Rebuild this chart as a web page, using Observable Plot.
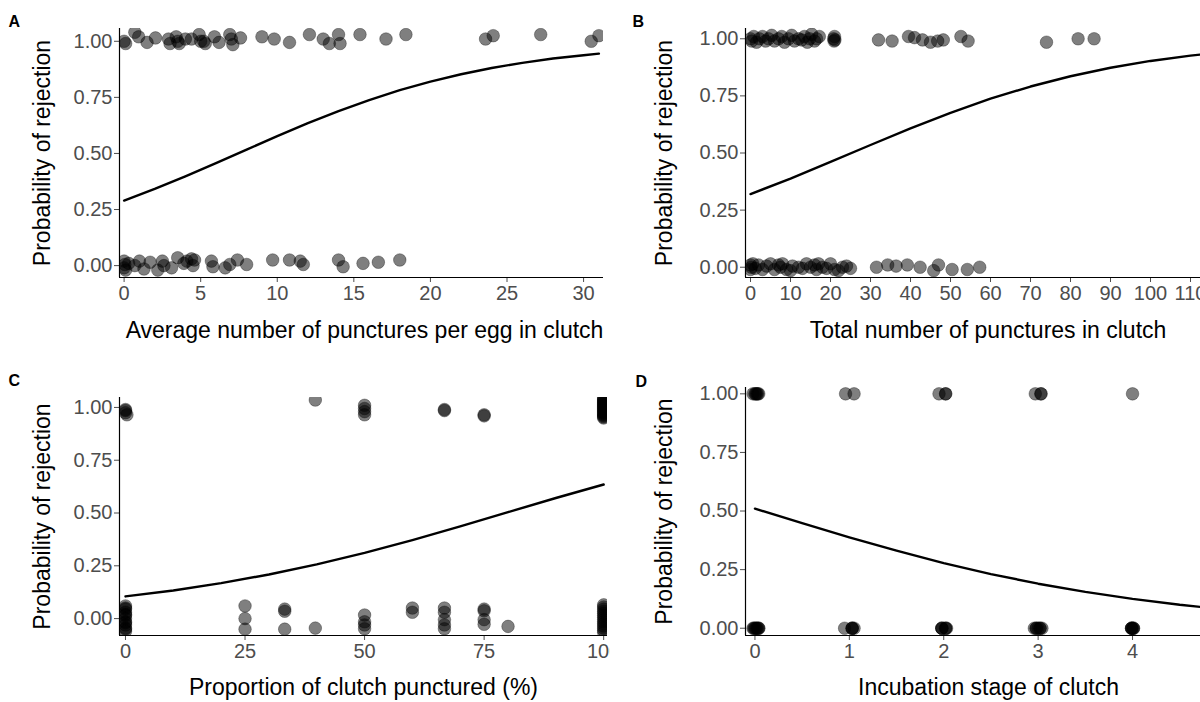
<!DOCTYPE html>
<html><head><meta charset="utf-8">
<script src="https://cdn.jsdelivr.net/npm/d3@7"></script>
<script src="https://cdn.jsdelivr.net/npm/@observablehq/plot@0.6"></script>
<style>
body{margin:0;background:#fff;}
#fig{position:relative;width:1200px;height:702px;overflow:hidden;background:#fff;}
#fig > svg{position:absolute;}
</style></head><body><div id="fig"></div>
<script>
// ---------- data ----------
const yTicks = [0, 0.25, 0.5, 0.75, 1];
const yTitle = "Probability of rejection";

// Panel A: average punctures per egg
const aTicks = [0, 5, 10, 15, 20, 25, 30];
const aRejected = [[0,1.00],[0.1,0.99],[0.7,1.04],[0.95,1.02],[1.5,0.995],[2.05,1.015],[2.9,1.01],[3.0,0.99],[3.4,1.02],[3.5,1.0],[3.6,0.99],[4.0,1.01],[4.4,1.01],[4.9,1.03],[5.0,1.0],[5.2,1.0],[5.3,0.99],[5.9,1.02],[6.2,0.995],[6.9,1.03],[7.0,1.01],[7.1,0.985],[7.6,1.015],[9.0,1.02],[9.8,1.01],[10.8,0.995],[12.1,1.03],[13.0,1.01],[13.4,0.99],[14.0,1.03],[14.1,0.99],[15.4,1.03],[17.1,1.01],[18.4,1.03],[23.6,1.01],[24.1,1.025],[27.2,1.03],[30.5,1.0],[31.0,1.025]];
const aAccepted = [[0,0.02],[0,-0.01],[0.05,0.005],[0.1,-0.02],[0.3,0.01],[0.7,0.0],[1.0,0.02],[1.3,-0.015],[1.7,0.015],[2.2,-0.02],[2.5,0.02],[2.6,0.0],[3.1,-0.01],[3.5,0.035],[3.9,0.01],[4.1,0.02],[4.4,0.03],[4.5,0.0],[4.6,0.025],[5.7,0.02],[5.8,-0.005],[6.6,-0.01],[6.9,0.005],[7.4,0.025],[8.0,0.005],[9.7,0.025],[10.8,0.025],[11.5,0.02],[11.7,0.005],[14.0,0.025],[14.3,-0.005],[15.6,0.01],[16.6,0.015],[18.0,0.025]];
const aCurve = [[0,0.29],[2,0.342],[4,0.398],[6,0.457],[8,0.517],[10,0.577],[12,0.635],[14,0.689],[16,0.738],[18,0.782],[20,0.820],[22,0.853],[24,0.881],[26,0.904],[28,0.923],[30,0.938],[31,0.945]];

// Panel B: total punctures
const bTicks = [0, 10, 20, 30, 40, 50, 60, 70, 80, 90, 100, 110];
const bRejected = [[0,1.0],[0.3,0.99],[0.8,1.01],[1.5,0.985],[2.2,1.0],[3.0,1.01],[3.8,0.99],[4.5,1.0],[5.3,1.015],[6.0,0.99],[7.0,1.0],[7.8,1.01],[8.5,0.985],[9.5,1.0],[10.3,1.015],[11.0,0.99],[12.0,1.0],[12.8,0.995],[13.5,1.01],[14.2,0.985],[14.8,1.0],[15.3,1.02],[16.0,0.99],[16.5,1.0],[17.2,1.01],[20.8,1.0],[20.9,0.99],[21.0,1.01],[21.1,0.995],[32,0.995],[35.4,0.99],[39.5,1.01],[41,1.005],[43,0.995],[45,0.985],[46.8,0.99],[48.2,0.995],[52.6,1.01],[54.4,0.99],[74,0.985],[81.9,1.0],[85.9,1.0]];
const bAccepted = [[0,0.01],[0,-0.01],[0.2,0.0],[0.6,0.015],[1.2,-0.005],[2,0.01],[3,-0.01],[4,0.005],[5,0.015],[6,-0.01],[7,0.01],[7.5,0.0],[8,0.015],[9,-0.01],[10,-0.015],[10.5,0.005],[12,0.0],[13,-0.005],[14,0.015],[15,0.0],[16,0.01],[16.5,-0.01],[17,0.015],[18,0.0],[19,-0.005],[20,0.015],[21,-0.01],[22,-0.015],[23,0.0],[24,0.005],[25,-0.005],[31.5,0.0],[34.3,0.01],[36.4,0.005],[39.2,0.01],[42.4,0.0],[45.8,-0.015],[47,0.01],[50.4,-0.01],[54.2,-0.01],[57.3,0.0]];
const bCurve = [[0,0.32],[10,0.388],[20,0.461],[30,0.535],[40,0.608],[50,0.676],[60,0.738],[70,0.791],[80,0.836],[90,0.873],[100,0.903],[110,0.926],[112.5,0.931]];

// Panel C: proportion of clutch punctured
const cTicks = [0, 25, 50, 75, 100];
const cRejected = [[0,0.99],[0,0.975],[0.3,0.965],[0,0.985],[39.7,1.035],[50,1.01],[50,0.995],[50,0.98],[50,0.965],[66.7,0.99],[66.7,0.985],[75,0.965],[75,0.96],[100,0.95],[100,0.955],[100,0.96],[100,0.965],[100,0.97],[100,0.975],[100,0.98],[100,0.985],[100,0.99],[100,0.995],[100,1.0],[100,1.005],[100,1.01],[100,1.015],[100,1.02],[100,1.025],[100,1.03],[100,1.035],[100,1.04],[100,1.045]];
const cAccepted = [[0,0.06],[0,0.05],[0,0.045],[0,0.03],[0,0.02],[0,0.015],[0,0.0],[0,-0.015],[0,-0.02],[0,-0.03],[0,-0.045],[0,-0.05],[0,-0.06],[25,0.06],[25,0.0],[25,-0.05],[33.3,0.045],[33.3,0.035],[33.3,-0.05],[39.7,-0.045],[50,0.017],[50,-0.015],[50,-0.03],[50,-0.048],[60,0.05],[60,0.03],[66.7,0.05],[66.7,0.03],[66.7,-0.005],[66.7,-0.03],[66.7,-0.048],[75,0.045],[75,0.037],[75,-0.005],[75,-0.027],[80,-0.037],[100,0.065],[100,0.055],[100,0.045],[100,0.035],[100,0.025],[100,0.015],[100,0.005],[100,-0.005],[100,-0.015],[100,-0.025],[100,-0.035],[100,-0.045],[100,-0.055],[100,-0.065]];
const cCurve = [[0,0.105],[10,0.133],[20,0.168],[30,0.209],[40,0.257],[50,0.311],[60,0.372],[70,0.437],[80,0.504],[90,0.571],[100,0.635]];

// Panel D: incubation stage
const dTicks = [0, 1, 2, 3, 4];
const dRejected = [[-0.02,1],[0,1],[0.01,1],[0.02,1],[0.03,1],[0.04,1],[0.96,1],[1.05,1],[1.95,1],[2.02,1],[2.02,1],[2.97,1],[3.03,1],[3.03,1],[4.0,1]];
const dAccepted = [[-0.02,0],[-0.01,0],[0,0],[0.01,0],[0.02,0],[0.03,0],[0.04,0],[0.04,0],[0.95,0],[1.03,0],[1.03,0],[1.03,0],[1.05,0],[1.98,0],[1.98,0],[1.98,0],[2.02,0],[2.02,0],[2.03,0],[2.96,0],[2.98,0],[2.98,0],[3.0,0],[3.02,0],[3.02,0],[3.04,0],[3.99,0],[3.99,0],[3.99,0],[4.0,0],[4.01,0],[4.01,0]];
const dCurve = [[0,0.510],[0.5,0.448],[1,0.388],[1.5,0.331],[2,0.278],[2.5,0.231],[3,0.190],[3.5,0.155],[4,0.125],[4.5,0.100],[4.72,0.091]];

// ---------- drawing ----------
const FONT = "'Liberation Sans', Arial, Helvetica, sans-serif";
const fig = document.getElementById("fig");

function panel(p) {
  const pts = [...p.rejected, ...p.accepted];
  const svg = Plot.plot({
    width: p.w, height: p.h,
    marginLeft: p.ml, marginRight: p.mr, marginTop: p.mt, marginBottom: p.mb,
    style: {fontFamily: FONT, fontSize: "20px", background: "transparent", overflow: "hidden"},
    x: {domain: p.xDomain},
    y: {domain: p.yDomain},
    marks: [
      Plot.axisY({ticks: yTicks, tickFormat: d3.format(".2f"), tickSize: 5, tickPadding: 2, label: null, color: "#4d4d4d"}),
      Plot.axisX({ticks: p.xTicks, tickFormat: d3.format("d"), tickSize: 5, tickPadding: 3, label: null, color: "#4d4d4d"}),
      Plot.dot(pts, {x: d => d[0], y: d => d[1], r: 6.3, fill: "black", fillOpacity: 0.5, stroke: "black", strokeOpacity: 0.45, strokeWidth: 0.7, clip: true}),
      Plot.line(p.curve, {x: d => d[0], y: d => d[1], stroke: "black", strokeWidth: 2.4, clip: true}),
      Plot.ruleX([p.xDomain[0]], {stroke: "black", strokeWidth: 1.2}),
      Plot.ruleY([p.yDomain[0]], {stroke: "black", strokeWidth: 1.2}),
      Plot.text([p.xTitle], {text: d => d, frameAnchor: "bottom", dy: p.xTitleDy, dx: p.xTitleDx, fontSize: 23, fill: "black", textAnchor: "middle", lineAnchor: "middle"}),
      Plot.text([yTitle], {text: d => d, frameAnchor: "left", rotate: -90, dx: p.yTitleDx, fontSize: 23, fill: "black", textAnchor: "middle", lineAnchor: "middle"}),
      Plot.text([p.letter], {text: d => d, frameAnchor: "top-left", dx: p.letterDx, dy: p.letterDy, textAnchor: "start", lineAnchor: "bottom", fontWeight: "bold", fontSize: 16, fill: "black"})
    ]
  });
  svg.style.left = p.left + "px";
  svg.style.top = p.top + "px";
  fig.appendChild(svg);
}

panel({letter: "A", rejected: aRejected, accepted: aAccepted, curve: aCurve, xTicks: aTicks,
  xDomain: [-0.3, 31.3], yDomain: [-0.053, 1.057], xTitle: "Average number of punctures per egg in clutch",
  left: 0, top: 0, w: 610, h: 350, ml: 119, mr: 7, mt: 28, mb: 73,
  xTitleDy: 53, xTitleDx: 3, yTitleDx: -77, letterDx: -111, letterDy: -1.3});

panel({letter: "B", rejected: bRejected, accepted: bAccepted, curve: bCurve, xTicks: bTicks,
  xDomain: [-1.25, 112.5], yDomain: [-0.045, 1.045], xTitle: "Total number of punctures in clutch",
  left: 610, top: 0, w: 590, h: 350, ml: 135, mr: 0, mt: 28, mb: 73,
  xTitleDy: 53, xTitleDx: 15, yTitleDx: -81, letterDx: -113, letterDy: -1.3});

panel({letter: "C", rejected: cRejected, accepted: cAccepted, curve: cCurve, xTicks: cTicks,
  xDomain: [-1.25, 100.8], yDomain: [-0.08, 1.047], xTitle: "Proportion of clutch punctured (%)",
  left: 0, top: 350, w: 610, h: 352, ml: 119, mr: 3, mt: 47, mb: 67,
  xTitleDy: 52.5, xTitleDx: 0, yTitleDx: -77, letterDx: -111, letterDy: -12});

panel({letter: "D", rejected: dRejected, accepted: dAccepted, curve: dCurve, xTicks: dTicks,
  xDomain: [-0.1, 4.72], yDomain: [-0.031, 1.027], xTitle: "Incubation stage of clutch",
  left: 610, top: 350, w: 590, h: 352, ml: 135, mr: 0, mt: 37, mb: 67,
  xTitleDy: 52.5, xTitleDx: 15.5, yTitleDx: -81, letterDx: -110, letterDy: -1});
</script>
</body></html>
